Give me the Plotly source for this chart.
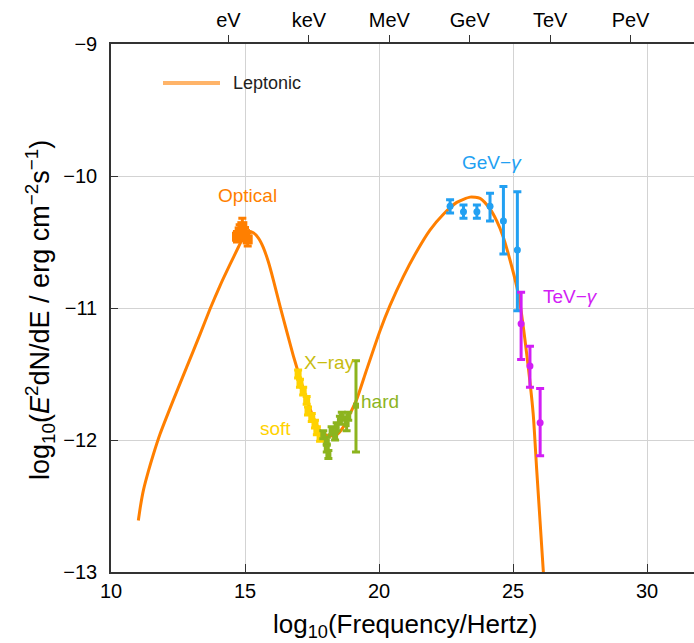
import plotly.graph_objects as go

# ---------------- data ----------------
# Leptonic model curve (log10 frequency, log10 E^2 dN/dE)
model_x = [11.02, 11.10, 11.21, 11.39, 11.58, 11.83, 12.32, 12.82, 13.32, 13.69, 14.07, 14.44, 14.75,
           14.95, 15.12, 15.31, 15.50, 15.68, 15.87, 16.06, 16.31, 16.56, 16.80, 17.08, 17.30,
           17.55, 17.80, 18.11, 18.42, 18.67, 18.92, 19.17, 19.50, 20.04, 20.41, 20.91,
           21.41, 21.90, 22.40, 22.90, 23.40, 23.77, 24.14, 24.39, 24.63, 24.89, 25.14,
           25.26, 25.51, 25.75, 25.88, 26.13]
model_y = [-12.61, -12.50, -12.38, -12.24, -12.11, -11.955, -11.70, -11.45, -11.20, -11.01, -10.83, -10.67, -10.54,
           -10.46, -10.42, -10.43, -10.47, -10.54, -10.65, -10.79, -10.99, -11.18, -11.36, -11.55, -11.69,
           -11.83, -11.93, -11.97, -11.96, -11.90, -11.80, -11.69, -11.49, -11.17, -10.98, -10.76,
           -10.57, -10.41, -10.29, -10.20, -10.16, -10.17, -10.25, -10.34, -10.46, -10.64, -10.84,
           -10.97, -11.35, -11.80, -12.22, -13.00]

optical_x = [14.70, 14.80, 14.90, 15.00, 15.10]
optical_y = [-10.46, -10.42, -10.38, -10.44, -10.48]
optical_err = [0.04, 0.05, 0.06, 0.05, 0.05]

soft_x = [16.98, 17.05, 17.17, 17.30, 17.35, 17.49, 17.61, 17.68, 17.80]
soft_y = [-11.50, -11.57, -11.63, -11.70, -11.78, -11.83, -11.88, -11.93, -11.98]
soft_err = [0.03, 0.03, 0.03, 0.03, 0.03, 0.03, 0.03, 0.03, 0.03]

hard_x = [17.92, 18.05, 18.05, 18.11, 18.23, 18.36, 18.42, 18.54, 18.61, 18.79, 18.85, 19.14]
hard_y = [-11.96, -12.01, -12.06, -12.11, -11.93, -11.97, -11.90, -11.85, -11.82, -11.88, -11.82, -11.74]
hard_err_plus = [0.03, 0.03, 0.03, 0.03, 0.03, 0.03, 0.03, 0.03, 0.03, 0.05, 0.03, 0.34]
hard_err_minus = [0.03, 0.03, 0.03, 0.03, 0.03, 0.03, 0.03, 0.03, 0.03, 0.05, 0.03, 0.35]

gev_x = [22.65, 23.15, 23.65, 24.14, 24.64, 25.16]
gev_y = [-10.23, -10.27, -10.27, -10.23, -10.34, -10.56]
gev_err_plus = [0.05, 0.05, 0.05, 0.10, 0.26, 0.44]
gev_err_minus = [0.05, 0.05, 0.05, 0.11, 0.25, 0.46]

tev_x = [25.30, 25.63, 26.01]
tev_y = [-11.12, -11.44, -11.87]
tev_err_plus = [0.24, 0.15, 0.26]
tev_err_minus = [0.27, 0.16, 0.25]

x_ticks = [10, 15, 20, 25, 30]
y_ticks = [-13, -12, -11, -10, -9]
energy_labels = ["eV", "keV", "MeV", "GeV", "TeV", "PeV"]
energy_ticks = [14.383, 17.383, 20.383, 23.383, 26.383, 29.383]

# ---------------- style ----------------
ORANGE = "#FF7F00"
YELLOW = "#FFD200"
GREEN = "#8CB41E"
BLUE = "#22A0F2"
MAGENTA = "#D21EF5"
FONT = "Liberation Sans, Arial, sans-serif"

W, H = 694, 643
L, R, T, B = 111, 0, 44, 71
PW, PH = W - L - R, H - T - B


def px_x(p):  # pixel -> paper x
    return (p - L) / PW


def px_y(p):  # pixel -> paper y
    return (H - B - p) / PH


fig = go.Figure()

fig.add_trace(go.Scatter(x=model_x, y=model_y, mode="lines", name="Leptonic",
                         line=dict(color=ORANGE, width=3, shape="spline", smoothing=0.6),
                         showlegend=False))


def points(x, y, ep, em, color, symbol, size, cap):
    return go.Scatter(x=x, y=y, mode="markers", showlegend=False,
                      marker=dict(color=color, symbol=symbol, size=size),
                      error_y=dict(type="data", symmetric=False, array=ep, arrayminus=em,
                                   color=color, thickness=3, width=cap))


fig.add_trace(points(optical_x, optical_y, optical_err, optical_err, ORANGE, "square", 10, 4))
fig.add_trace(points(soft_x, soft_y, soft_err, soft_err, YELLOW, "square", 7, 4))
fig.add_trace(points(hard_x, hard_y, hard_err_plus, hard_err_minus, GREEN, "square", 6, 4))
fig.add_trace(points(gev_x, gev_y, gev_err_plus, gev_err_minus, BLUE, "circle", 7, 4))
fig.add_trace(points(tev_x, tev_y, tev_err_plus, tev_err_minus, MAGENTA, "circle", 7, 4))

# invisible trace for top (energy) axis
fig.add_trace(go.Scatter(x=[energy_ticks[0]], y=[y_ticks[0]], xaxis="x2", mode="markers",
                         marker=dict(opacity=0), showlegend=False, hoverinfo="skip"))

labels = [
    ("Optical", 15.11, -10.15, ORANGE),
    ("X\u2212ray", 18.17, -11.41, "#C8BC10"),
    ("soft", 16.12, -11.91, YELLOW),
    ("hard", 20.04, -11.71, GREEN),
    ("GeV\u2212<i>\u03b3</i>", 24.22, -9.90, BLUE),
    ("TeV\u2212<i>\u03b3</i>", 27.13, -10.91, MAGENTA),
]
for txt, lx, ly, col in labels:
    fig.add_annotation(x=lx, y=ly, text=txt, showarrow=False,
                       font=dict(family=FONT, size=19, color=col))

# legend (drawn manually)
fig.add_shape(type="line", xref="paper", yref="paper", x0=px_x(163), x1=px_x(220),
              y0=px_y(83), y1=px_y(83), line=dict(color="#FFB469", width=4))
fig.add_annotation(xref="paper", yref="paper", x=px_x(231), y=px_y(83),
                   xanchor="left", yanchor="middle", text="Leptonic", showarrow=False,
                   font=dict(family=FONT, size=18, color="#222"))

# axis titles
fig.add_annotation(xref="paper", yref="paper", x=px_x(405), y=px_y(625),
                   xanchor="center", yanchor="middle", showarrow=False,
                   text="log<sub>10</sub>(Frequency/Hertz)",
                   font=dict(family=FONT, size=26, color="black"))
fig.add_annotation(xref="paper", yref="paper", x=px_x(40), y=px_y(310),
                   xanchor="center", yanchor="middle", showarrow=False, textangle=-90,
                   text="log<sub>10</sub>(<i>E</i><sup>2</sup>dN/dE / erg cm<sup>\u22122</sup>s<sup>\u22121</sup>)",
                   font=dict(family=FONT, size=27, color="black"))

XR = [10, 31.75]
axis_common = dict(showline=True, linecolor="#333", linewidth=1.5, automargin=False,
                   tickfont=dict(family=FONT, size=20, color="black"),
                   zeroline=False)

fig.update_layout(
    width=W, height=H,
    margin=dict(l=L, r=R, t=T, b=B),
    paper_bgcolor="white", plot_bgcolor="white",
    font=dict(family=FONT),
    xaxis=dict(range=XR, tickvals=x_ticks, ticks="inside", ticklen=8, tickcolor="#333",
               showgrid=True, gridcolor="#D3D3D3", gridwidth=1, **axis_common),
    xaxis2=dict(range=XR, overlaying="x", side="top", tickvals=energy_ticks,
                ticktext=energy_labels, ticks="outside", ticklen=7, tickcolor="#333",
                showgrid=False, **axis_common),
    yaxis=dict(range=[-13, -9], tickvals=y_ticks, ticks="inside", ticklen=7, tickcolor="#333",
               ticklabelstandoff=8,
               showgrid=True, gridcolor="#D3D3D3", gridwidth=1, **axis_common),
)

fig.write_html("out.html", config={"displayModeBar": False},
               post_script="document.body.style.margin='0';document.body.style.overflow='hidden';")
